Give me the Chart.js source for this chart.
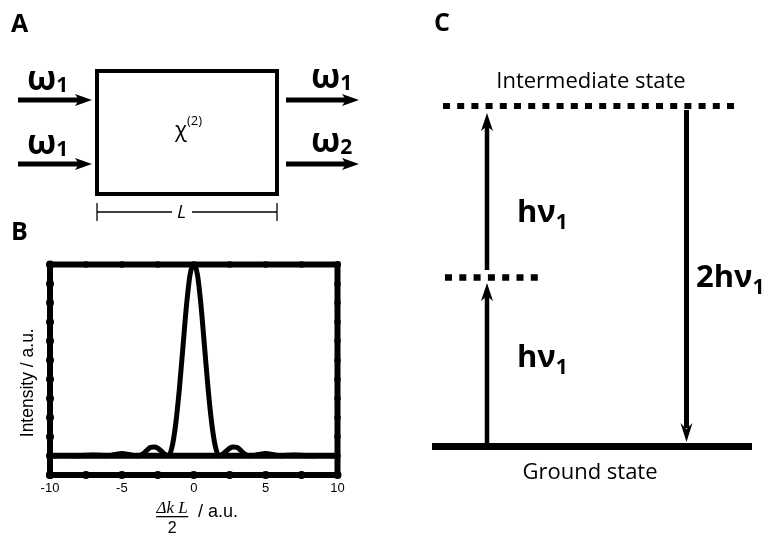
<!DOCTYPE html>
<html>
<head>
<meta charset="utf-8">
<script src="https://cdn.jsdelivr.net/npm/chart.js@4/dist/chart.umd.min.js"></script>
<style>
  html, body { margin: 0; padding: 0; background: #fff; }
  #page { position: relative; width: 768px; height: 539px; overflow: hidden; }
  #chartBox { position: absolute; left: 0; top: 240px; width: 390px; height: 299px; }
  #diagram { position: absolute; left: 0; top: 0; pointer-events: none; }
  .lbl { font-family: "Open Sans", sans-serif; font-weight: bold; fill: #000; }
  .txt { font-family: "Open Sans", sans-serif; fill: #000; }
</style>
</head>
<body>
<div id="page">
  <div id="chartBox"><canvas id="phaseChart"></canvas></div>

  <svg id="diagram" width="768" height="539" xmlns="http://www.w3.org/2000/svg">
    <!-- panel A -->
    <text class="lbl" x="11" y="32" font-size="25">A</text>
    <rect x="97" y="71" width="180" height="123" fill="none" stroke="#000" stroke-width="4"/>
    <g stroke="#000" stroke-width="5">
      <line x1="18" y1="100" x2="82" y2="100"/>
      <line x1="18" y1="164" x2="82" y2="164"/>
      <line x1="286" y1="100" x2="349" y2="100"/>
      <line x1="286" y1="164" x2="349" y2="164"/>
    </g>
    <g fill="#000">
      <polygon points="92,100 75,94 79,100 75,106"/>
      <polygon points="92,164 75,158 79,164 75,170"/>
      <polygon points="359,100 342,94 346,100 342,106"/>
      <polygon points="359,164 342,158 346,164 342,170"/>
    </g>
    <text class="lbl" x="27" y="90" font-size="34">ω<tspan font-size="21" dy="2">1</tspan></text>
    <text class="lbl" x="27" y="154" font-size="34">ω<tspan font-size="21" dy="2">1</tspan></text>
    <text class="lbl" x="311" y="88" font-size="34">ω<tspan font-size="21" dy="2">1</tspan></text>
    <text class="lbl" x="311" y="152" font-size="34">ω<tspan font-size="21" dy="2">2</tspan></text>
    <text class="txt" x="175" y="137" font-size="22">χ<tspan font-size="13" dy="-12">(2)</tspan></text>
    <g stroke="#000" stroke-width="1.3">
      <line x1="97" y1="212" x2="172" y2="212"/>
      <line x1="192" y1="212" x2="277" y2="212"/>
      <line x1="97" y1="203" x2="97" y2="221"/>
      <line x1="277" y1="203" x2="277" y2="221"/>
    </g>
    <text class="txt" x="177" y="218" font-size="19" font-style="italic">L</text>

    <!-- panel B label -->
    <text class="lbl" x="11" y="240" font-size="25">B</text>

    <!-- panel C -->
    <text class="lbl" x="434" y="31" font-size="25">C</text>
    <text class="txt" x="591" y="88" font-size="22" text-anchor="middle">Intermediate state</text>
    <line x1="443" y1="106" x2="737" y2="106" stroke="#000" stroke-width="6" stroke-dasharray="7 7.2"/>
    <line x1="445" y1="277.5" x2="540" y2="277.5" stroke="#000" stroke-width="6.5" stroke-dasharray="7 7.3"/>
    <line x1="432" y1="446.5" x2="752" y2="446.5" stroke="#000" stroke-width="7"/>
    <text class="txt" x="590" y="479" font-size="22" text-anchor="middle">Ground state</text>
    <g stroke="#000">
      <line x1="487" y1="446" x2="487" y2="296" stroke-width="4.5"/>
      <line x1="487" y1="270" x2="487" y2="126" stroke-width="4.5"/>
      <line x1="686.5" y1="110" x2="686.5" y2="428" stroke-width="5"/>
    </g>
    <g fill="#000">
      <polygon points="487,283 481,301 487,296 493,301"/>
      <polygon points="487,113 481,131 487,126 493,131"/>
      <polygon points="686.5,442 680.5,423 686.5,429 692.5,423"/>
    </g>
    <text class="lbl" x="517" y="222" font-size="31">hν<tspan font-size="21" dy="7">1</tspan></text>
    <text class="lbl" x="517" y="367" font-size="31">hν<tspan font-size="21" dy="7">1</tspan></text>
    <text class="lbl" x="696" y="287" font-size="31">2hν<tspan font-size="21" dy="7">1</tspan></text>
  </svg>
</div>

<script>
// Phase-matching curve (panel B)
const deltaKL = [-10, -9.5, -9, -8.5, -8, -7.5, -7, -6.5, -6, -5.5, -5, -4.5, -4, -3.75, -3.5, -3.25, -3, -2.75, -2.5, -2.25, -2, -1.75, -1.5, -1.25, -1, -0.75, -0.5, -0.25,
  0, 0.25, 0.5, 0.75, 1, 1.25, 1.5, 1.75, 2, 2.25, 2.5, 2.75, 3, 3.25, 3.5, 3.75, 4, 4.5, 5, 5.5, 6, 6.5, 7, 7.5, 8, 8.5, 9, 9.5, 10];
const intensity = [0, 0.001, 0.002, 0.001, 0, 0.003, 0.005, 0.003, 0, 0.007, 0.012, 0.007, 0, 0.002, 0.012, 0.03, 0.044, 0.046, 0.04, 0.025, 0.008, 0.0, 0.05, 0.17, 0.35, 0.57, 0.79, 0.95,
  1.0, 0.95, 0.79, 0.57, 0.35, 0.17, 0.05, 0.0, 0.008, 0.025, 0.04, 0.046, 0.044, 0.03, 0.012, 0.002, 0, 0.007, 0.012, 0.007, 0, 0.003, 0.005, 0.003, 0, 0.001, 0.002, 0.001, 0];

// zero line across the plot
const baseX = [-10, 10];
const baseY = [0, 0];

// axes
const xRange = [-10, 10];
const xStep = 2.5;
const xTickLabels = ['-10', '-5', '0', '5', '10'];
const yRange = [-0.1, 1.0];
const yStep = 0.1;

const curvePoints = deltaKL.map((x, i) => ({ x: x, y: intensity[i] }));
const basePoints = baseX.map((x, i) => ({ x: x, y: baseY[i] }));

// thick frame, dotted ticks and the axis titles
const frameAndTitles = {
    id: 'frameAndTitles',
    afterDatasetsDraw(chart) {
        const { ctx, chartArea: a, scales: { x, y } } = chart;
        ctx.save();
        ctx.fillStyle = '#000';
        ctx.strokeStyle = '#000';
        ctx.lineWidth = 6;
        ctx.strokeRect(a.left, a.top, a.right - a.left, a.bottom - a.top);

        function dot(px, py, r) {
            ctx.beginPath();
            ctx.arc(px, py, r, 0, Math.PI * 2);
            ctx.fill();
        }
        x.ticks.forEach(t => {
            const px = x.getPixelForValue(t.value);
            dot(px, a.bottom, 4);
            dot(px, a.top, 3.2);
        });
        y.ticks.forEach(t => {
            const py = y.getPixelForValue(t.value);
            dot(a.left, py, 4);
            dot(a.right, py, 3.2);
        });

        // y title
        ctx.save();
        ctx.translate(a.left - 22, (a.top + a.bottom) / 2 + 13);
        ctx.rotate(-Math.PI / 2);
        ctx.font = '17.5px "Liberation Sans", Arial, sans-serif';
        ctx.textAlign = 'center';
        ctx.textBaseline = 'middle';
        ctx.fillText('Intensity / a.u.', 0, 0);
        ctx.restore();

        // x title: fraction  Δk L / 2  followed by "/ a.u."
        const fx = x.getPixelForValue(-1.5);
        ctx.font = 'italic 17px "Liberation Serif", "DejaVu Serif", serif';
        ctx.textAlign = 'center';
        ctx.textBaseline = 'alphabetic';
        ctx.fillText('Δk L', fx, a.bottom + 38);
        ctx.fillRect(fx - 16, a.bottom + 41, 32, 1.3);
        ctx.font = '16px "Liberation Sans", Arial, sans-serif';
        ctx.fillText('2', fx, a.bottom + 58);
        ctx.textAlign = 'left';
        ctx.font = '18px "Liberation Sans", Arial, sans-serif';
        ctx.fillText('/ a.u.', x.getPixelForValue(0.3), a.bottom + 42);
        ctx.restore();
    }
};

const ctx = document.getElementById('phaseChart').getContext('2d');
const phaseChart = new Chart(ctx, {
    type: 'line',
    data: {
        datasets: [
            {
                label: 'zero',
                data: basePoints,
                borderColor: '#000',
                borderWidth: 6,
                pointRadius: 0,
                fill: false,
                clip: false
            },
            {
                label: 'Intensity',
                data: curvePoints,
                borderColor: '#000',
                borderWidth: 5,
                pointRadius: 0,
                cubicInterpolationMode: 'monotone',
                fill: false,
                clip: false
            }
        ]
    },
    options: {
        responsive: true,
        maintainAspectRatio: false,
        animation: false,
        layout: { padding: { left: 0, top: 24.5, right: 52.5, bottom: 0 } },
        plugins: { legend: { display: false }, tooltip: { enabled: false } },
        scales: {
            x: {
                type: 'linear',
                min: xRange[0],
                max: xRange[1],
                grid: { display: false, drawTicks: false },
                border: { display: false },
                ticks: {
                    stepSize: xStep,
                    autoSkip: false,
                    maxRotation: 0,
                    padding: 6,
                    color: '#000',
                    font: { family: '"Liberation Sans", Arial, sans-serif', size: 13 },
                    callback: v => xTickLabels.includes(String(v)) ? String(v) : ''
                },
                afterFit: s => { s.height = 64; }
            },
            y: {
                type: 'linear',
                min: yRange[0],
                max: yRange[1],
                grid: { display: false, drawTicks: false },
                border: { display: false },
                ticks: { stepSize: yStep, display: false },
                afterFit: s => { s.width = 50; }
            }
        }
    },
    plugins: [frameAndTitles]
});
</script>
</body>
</html>
